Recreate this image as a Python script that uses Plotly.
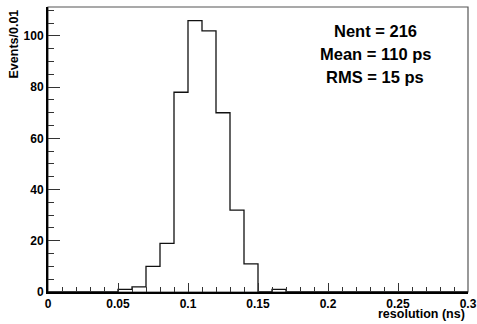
import plotly.graph_objects as go

# data
bin_edges = [round(0.01 * i, 2) for i in range(31)]
counts = [0, 0, 0, 0, 0, 1, 2, 10, 19, 78, 106, 102, 70, 32, 11, 0, 1,
          0, 0, 0, 0, 0, 0, 0, 0, 0, 0, 0, 0, 0]
x_ticks = [0, 0.05, 0.1, 0.15, 0.2, 0.25, 0.3]
x_tick_labels = ["0", "0.05", "0.1", "0.15", "0.2", "0.25", "0.3"]
y_ticks = [0, 20, 40, 60, 80, 100]
stats_lines = ["Nent = 216", "Mean = 110 ps", "RMS = 15 ps"]

xs = bin_edges
ys = counts + [counts[-1]]

FONT = "Liberation Sans, Arial, Helvetica, sans-serif"

fig = go.Figure()
fig.add_trace(go.Scatter(x=xs, y=ys, mode="lines", line=dict(shape="hv", color="#111", width=1.3),
                         hoverinfo="skip", showlegend=False))

W, H = 477, 324
L, R, T, B = 48, 9, 7, 32

fig.update_layout(
    width=W, height=H,
    margin=dict(l=L, r=R, t=T, b=B, autoexpand=False),
    paper_bgcolor="white", plot_bgcolor="white",
    showlegend=False,
    xaxis=dict(range=[0, 0.3], tickvals=x_ticks, ticktext=x_tick_labels, automargin=False,
               ticks="inside", ticklen=9, tickwidth=1, tickcolor="#333",
               minor=dict(dtick=0.01, tick0=0, ticks="inside", ticklen=5, tickwidth=1, tickcolor="#333"),
               showgrid=False, zeroline=False, showline=True, linecolor="black", linewidth=2,
               tickfont=dict(family=FONT, size=12, color="black", weight="bold")),
    yaxis=dict(range=[0, 111.3], tickvals=y_ticks, automargin=False,
               ticks="inside", ticklen=12, tickwidth=1, tickcolor="#333",
               minor=dict(dtick=5, tick0=0, ticks="inside", ticklen=6, tickwidth=1, tickcolor="#333"),
               showgrid=False, zeroline=False, showline=True, linecolor="black", linewidth=2,
               tickfont=dict(family=FONT, size=12, color="black", weight="bold")),
)

# frame (top/right)
fig.add_shape(type="rect", xref="paper", yref="paper", x0=0, x1=1, y0=0, y1=1,
              line=dict(color="#555", width=1.2), layer="below")

ph = H - T - B
pw = W - L - R

def px_to_paper(px, py):
    return (px - L) / pw, (H - B - py) / ph

ax, ay = px_to_paper(13, 8)
fig.add_annotation(text="Events/0.01", xref="paper", yref="paper", x=ax, y=ay,
                   xanchor="center", yanchor="top", textangle=-90, showarrow=False,
                   font=dict(family=FONT, size=12.5, color="black", weight="bold"))
bx, by = px_to_paper(467, 314)
fig.add_annotation(text="resolution (ns)", xref="paper", yref="paper", x=bx, y=by,
                   xanchor="right", yanchor="middle", showarrow=False,
                   font=dict(family=FONT, size=12.5, color="black", weight="bold"))

for line, py in zip(stats_lines, [31, 54, 77]):
    sx, sy = px_to_paper(375, py)
    fig.add_annotation(text=line, xref="paper", yref="paper", x=sx, y=sy,
                       xanchor="center", yanchor="middle", showarrow=False,
                       font=dict(family=FONT, size=16.5, color="black", weight="bold"))

fig.write_html("out.html", config={"displayModeBar": False},
               post_script="document.body.style.margin='0';document.body.style.overflow='hidden';")
